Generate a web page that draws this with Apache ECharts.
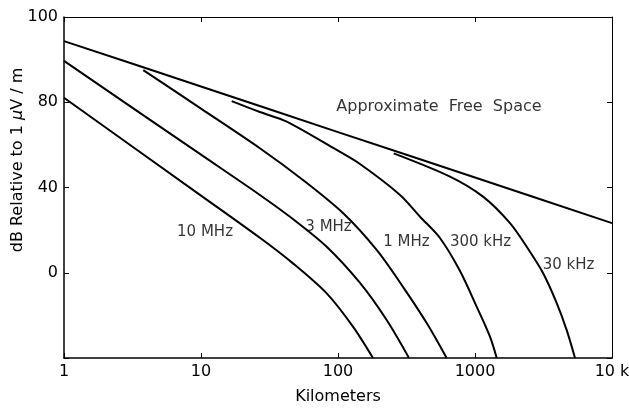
<!DOCTYPE html>
<html>
<head>
<meta charset="utf-8">
<script src="https://cdn.jsdelivr.net/npm/echarts@6/dist/echarts.min.js"></script>
<style>
html,body{margin:0;padding:0;background:#fff;}
#chart{width:629px;height:410px;}
</style>
</head>
<body>
<div id="chart"></div>
<script>
// ---- data (x in km, y in dB on the chart's internal scale) ----
const xTickValues = [1, 10, 100, 1000, 10000];
const xTickLabels = ['1', '10', '100', '1000', '10 k'];
const yTickValues = [-40, 0, 40, 80, 120];
const yTickLabels = ['', '0', '40', '80', '100'];

const freeSpace = [[1, 108.7], [10, 87.4], [100, 66.0], [1000, 44.7], [10000, 23.3]];
const mhz10 = [[1, 82.1], [10, 36.2], [26.9, 16.4], [46.9, 4.4], [82.7, -9.7], [128.6, -25.3], [180, -40]];
const mhz3 = [[1, 99.4], [10, 55.4], [26.9, 36.5], [46.9, 25.2], [82.7, 12.2], [144.8, -4.8], [226.6, -22.2], [329.8, -40]];
const mhz1 = [[3.79, 95.1], [10, 77.0], [26.9, 58.4], [55.5, 43.5], [108.7, 28.0], [191.5, 10.7], [298, -6.6], [444, -23.6], [621, -40]];
const khz300 = [[16.75, 80.5], [26.9, 75.4], [42.2, 70.9], [97.8, 57.6], [144.7, 51.0], [283.6, 36.5], [396.8, 26.3], [555, 16.3], [777.6, 0.8], [1028, -15.9], [1286, -30.0], [1440, -40]];
const khz30 = [[255, 56.0], [657, 45.1], [1144, 35.7], [1801, 23.3], [2385, 12.2], [3136, -0.1], [3949, -14.2], [4670, -26.9], [5370, -40]];

const labelTexts = ['10 MHz', '3 MHz', '1 MHz', '300 kHz', '30 kHz', 'Approximate  Free  Space'];
const labelX = [10.7, 85.3, 316, 1097, 4812, 546];
const labelY = [19.1, 21.5, 14.4, 14.4, 3.6, 77.8];

const FONT = 'DejaVu Sans';

function curve(name, data) {
  return {
    name: name, type: 'line', data: data, showSymbol: false, symbol: 'none',
    smooth: 0.3,
    lineStyle: { color: '#000', width: 2, join: 'round' }, silent: true, animation: false
  };
}

const chart = echarts.init(document.getElementById('chart'), null, { renderer: 'canvas' });

const xFmt = v => { const i = xTickValues.findIndex(t => Math.abs(t - v) / t < 1e-6); return i >= 0 ? xTickLabels[i] : ''; };
const yFmt = v => { const i = yTickValues.indexOf(v); return i >= 0 ? yTickLabels[i] : ''; };

chart.setOption({
  animation: false,
  backgroundColor: '#fff',
  grid: { left: 64, right: 17, top: 17, bottom: 52, containLabel: false, outerBoundsMode: 'none' },
  xAxis: [
    {
      type: 'log', logBase: 10, min: 1, max: 10000, position: 'bottom',
      name: 'Kilometers', nameLocation: 'middle', nameGap: 31, nameMoveOverlap: false,
      nameTextStyle: { fontFamily: FONT, fontSize: 16, color: '#000' },
      axisLine: { show: true, onZero: false, lineStyle: { color: '#000', width: 1.5 } },
      axisTick: { show: true, inside: true, length: 5, lineStyle: { color: '#000' } },
      minorTick: { show: false },
      splitLine: { show: false },
      axisLabel: { formatter: xFmt, fontFamily: FONT, fontSize: 16, color: '#000', margin: 6 }
    },
    {
      type: 'log', logBase: 10, min: 1, max: 10000, position: 'top',
      axisLine: { show: true, onZero: false, lineStyle: { color: '#000', width: 1 } },
      axisTick: { show: true, inside: true, length: 5, lineStyle: { color: '#000' } },
      splitLine: { show: false },
      axisLabel: { show: false }
    }
  ],
  yAxis: [
    {
      type: 'value', min: -40, max: 120, interval: 40, position: 'left',
      name: '{n|dB Relative to 1 }{i|µ}{n|V / m}', nameLocation: 'middle', nameGap: 38, nameRotate: 90,
      nameMoveOverlap: false,
      nameTextStyle: {
        padding: [0, 0, 0, 55],
        rich: {
          n: { fontFamily: FONT, fontSize: 16, color: '#000' },
          i: { fontFamily: FONT, fontSize: 16, color: '#000', fontStyle: 'italic' }
        }
      },
      axisLine: { show: true, onZero: false, lineStyle: { color: '#000', width: 1.5 } },
      axisTick: { show: true, inside: true, length: 5, lineStyle: { color: '#000' } },
      splitLine: { show: false },
      axisLabel: { formatter: yFmt, fontFamily: FONT, fontSize: 16, color: '#000', margin: 6 }
    },
    {
      type: 'value', min: -40, max: 120, interval: 40, position: 'right',
      axisLine: { show: true, onZero: false, lineStyle: { color: '#000', width: 1 } },
      axisTick: { show: true, inside: true, length: 5, lineStyle: { color: '#000' } },
      splitLine: { show: false },
      axisLabel: { show: false }
    }
  ],
  series: [
    curve('Approximate Free Space', freeSpace),
    curve('10 MHz', mhz10),
    curve('3 MHz', mhz3),
    curve('1 MHz', mhz1),
    curve('300 kHz', khz300),
    curve('30 kHz', khz30),
    {
      type: 'scatter', symbolSize: 0, silent: true, animation: false,
      data: labelTexts.map((t, i) => ({
        name: t, value: [labelX[i], labelY[i]],
        label: { fontSize: i === labelTexts.length - 1 ? 16 : 15 }
      })),
      label: {
        show: true, position: 'inside', formatter: p => p.name,
        fontFamily: FONT, fontSize: 15, color: '#000'
      }
    }
  ]
});
</script>
</body>
</html>
